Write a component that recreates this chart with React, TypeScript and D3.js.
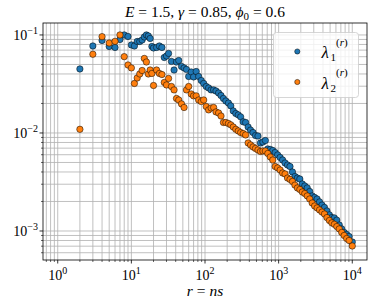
import * as d3 from "d3";

// r = n s sample points
const rValues = [
  2, 3, 4, 5, 6, 7, 8, 9, 10, 11, 12, 13, 14, 15, 16, 17, 18, 19, 20,
  22, 24, 26, 28, 30, 32, 35, 38, 41, 44, 48, 52, 56, 60, 65, 70, 76, 82, 89, 96,
  104, 112, 121, 131, 141, 153, 165, 178, 192, 208, 224, 242, 262, 283, 305, 330,
  356, 385, 416, 449, 485, 524, 566, 611, 660, 713, 770, 832, 898, 970, 1048,
  1132, 1222, 1320, 1426, 1540, 1664, 1797, 1941, 2096, 2264, 2445, 2641, 2852,
  3081, 3327, 3594, 3881, 4192, 4528, 4890, 5282, 5704, 6161, 6654, 7187, 7762,
  8384, 9055, 10000,
];

const lambda1 = [
  0.045, 0.0772, 0.0879, 0.0763, 0.0746, 0.09, 0.1, 0.0966, 0.0791, 0.0772,
  0.0858, 0.0858, 0.0889, 0.0954, 0.1, 0.0977, 0.0921, 0.0763, 0.0737,
  0.0746, 0.0772, 0.0746, 0.0589, 0.061, 0.0648, 0.0537, 0.0439, 0.053, 0.0549,
  0.0477, 0.0461, 0.0445, 0.0377, 0.0419, 0.0373, 0.0424, 0.0377, 0.0343, 0.032,
  0.0298, 0.0288, 0.0275, 0.0275, 0.0268, 0.0256, 0.0241, 0.0225, 0.0212, 0.0202,
  0.0189, 0.0168, 0.0158, 0.0153, 0.0146, 0.013, 0.0128, 0.0115, 0.0107, 0.0101,
  0.00942, 0.00931, 0.00791, 0.00809, 0.00838, 0.00687, 0.00679, 0.00663, 0.00632,
  0.00597, 0.00563, 0.0053, 0.00494, 0.00471, 0.00455, 0.004, 0.0036, 0.00347,
  0.00339, 0.00302, 0.00288, 0.00275, 0.00253, 0.00228, 0.0022, 0.00212, 0.00198,
  0.00184, 0.00174, 0.0016, 0.00146, 0.00137, 0.00136, 0.00129, 0.00115, 0.00105,
  0.000966, 0.000921, 0.000879, 0.000772,
];

const lambda2 = [
  0.0109, 0.0636, 0.0961, 0.0828, 0.0861, 0.1, 0.0601, 0.0494, 0.0461, 0.032,
  0.0364, 0.04, 0.0434, 0.0576, 0.053, 0.04, 0.0439, 0.0405, 0.0305,
  0.0439, 0.0405, 0.0395, 0.0328, 0.0309, 0.036, 0.0298, 0.0275, 0.0225, 0.0217,
  0.0198, 0.0182, 0.0275, 0.0298, 0.025, 0.0239, 0.0239, 0.0217, 0.0209, 0.0217,
  0.0186, 0.0172, 0.018, 0.0182, 0.0164, 0.016, 0.0149, 0.0128, 0.0128, 0.0125,
  0.0121, 0.0115, 0.0109, 0.0105, 0.0101, 0.00988, 0.00955, 0.00791, 0.00755,
  0.0072, 0.00695, 0.00671, 0.00648, 0.00655, 0.00655, 0.00618, 0.00569, 0.0053,
  0.00455, 0.0044, 0.00419, 0.00391, 0.00382, 0.00347, 0.00336, 0.0032, 0.00294,
  0.00275, 0.00265, 0.0025, 0.00241, 0.00228, 0.00212, 0.00193, 0.0018, 0.00172,
  0.00164, 0.00156, 0.00149, 0.00137, 0.00128, 0.00121, 0.00117, 0.00111, 0.00105,
  0.000966, 0.0009, 0.000838, 0.0008, 0.000703,
];

const series = [
  { name: "1", values: lambda1, color: "#1f77b4" },
  { name: "2", values: lambda2, color: "#ff7f0e" },
];

const xExponents = [0, 1, 2, 3, 4];
const yExponents = [-3, -2, -1];

const FONT = "'Liberation Serif', 'DejaVu Serif', serif";

export default function App() {
  const width = 374;
  const height = 307;
  const plot = { left: 43, right: 367, top: 23, bottom: 260 };

  const x = d3.scaleLog().domain([10 ** -0.2, 10 ** 4.2]).range([plot.left, plot.right]);
  const y = d3.scaleLog().domain([10 ** -3.296, 10 ** -0.878]).range([plot.bottom, plot.top]);

  const isMajor = (v: number) => Math.abs(Math.log10(v) - Math.round(Math.log10(v))) < 1e-9;
  const xTicks = x.ticks();
  const yTicks = y.ticks();
  const cx = (plot.left + plot.right) / 2;

  return (
    <svg
      width={width}
      height={height}
      style={{ position: "absolute", left: 0, top: 0, background: "#fff" }}
      fontFamily={FONT}
    >
      {/* grid, major and minor */}
      <g stroke="#b0b0b0" strokeWidth={0.8}>
        {xTicks.map((t) => (
          <line key={`gx${t}`} x1={x(t)} x2={x(t)} y1={plot.top} y2={plot.bottom} />
        ))}
        {yTicks.map((t) => (
          <line key={`gy${t}`} x1={plot.left} x2={plot.right} y1={y(t)} y2={y(t)} />
        ))}
      </g>

      {/* points */}
      {series.map((s) => (
        <g key={s.name} fill={s.color} stroke="#000" strokeWidth={0.5}>
          {s.values.map((v, i) => (
            <circle key={i} cx={x(rValues[i])} cy={y(v)} r={3.2} />
          ))}
        </g>
      ))}

      {/* frame */}
      <rect
        x={plot.left}
        y={plot.top}
        width={plot.right - plot.left}
        height={plot.bottom - plot.top}
        fill="none"
        stroke="#000"
        strokeWidth={0.8}
      />

      {/* tick marks */}
      <g stroke="#000">
        {xTicks.map((t) => (
          <line
            key={`tx${t}`}
            x1={x(t)}
            x2={x(t)}
            y1={plot.bottom}
            y2={plot.bottom + (isMajor(t) ? 3.5 : 2)}
            strokeWidth={isMajor(t) ? 0.8 : 0.6}
          />
        ))}
        {yTicks.map((t) => (
          <line
            key={`ty${t}`}
            x1={plot.left - (isMajor(t) ? 3.5 : 2)}
            x2={plot.left}
            y1={y(t)}
            y2={y(t)}
            strokeWidth={isMajor(t) ? 0.8 : 0.6}
          />
        ))}
      </g>

      {/* tick labels */}
      {xExponents.map((e) => (
        <text key={`lx${e}`} x={x(10 ** e)} y={plot.bottom + 20} fontSize={14} textAnchor="middle" fill="#000">
          10
          <tspan dy={-6} fontSize={10}>
            {e}
          </tspan>
        </text>
      ))}
      {yExponents.map((e) => (
        <text key={`ly${e}`} x={plot.left - 5} y={y(10 ** e) + 5} fontSize={14} textAnchor="end" fill="#000">
          10
          <tspan dy={-6} fontSize={10}>
            {`\u2212${-e}`}
          </tspan>
        </text>
      ))}

      {/* title */}
      <text x={cx} y={17} fontSize={15.5} textAnchor="middle" fill="#000">
        <tspan fontStyle="italic">E</tspan>
        <tspan> = 1.5, </tspan>
        <tspan fontStyle="italic">γ</tspan>
        <tspan> = 0.85, </tspan>
        <tspan fontStyle="italic">ϕ</tspan>
        <tspan fontSize={11} dy={3}>0</tspan>
        <tspan dy={-3}> = 0.6</tspan>
      </text>

      {/* x label */}
      <text x={cx} y={296} fontSize={15.5} textAnchor="middle" fill="#000">
        <tspan fontStyle="italic">r</tspan>
        <tspan> = </tspan>
        <tspan fontStyle="italic">ns</tspan>
      </text>

      {/* legend */}
      <rect x={273.5} y={32.5} width={85} height={65} rx={3} fill="#fff" fillOpacity={0.8} stroke="#cccccc" strokeWidth={0.8} />
      {series.map((s, i) => {
        const base = 58 + i * 30.5;
        return (
          <g key={`leg${s.name}`}>
            <circle cx={297.3} cy={base - 6.5} r={2.6} fill={s.color} stroke="#000" strokeWidth={0.5} />
            <text x={321.5} y={base} fontSize={17} fontStyle="italic" fill="#000">
              λ
            </text>
            <text x={330.5} y={base + 3} fontSize={11} fill="#000">
              {s.name}
            </text>
            <text x={336} y={base - 12.5} fontSize={11} fill="#000">
              (<tspan fontStyle="italic">r</tspan>)
            </text>
          </g>
        );
      })}
    </svg>
  );
}
